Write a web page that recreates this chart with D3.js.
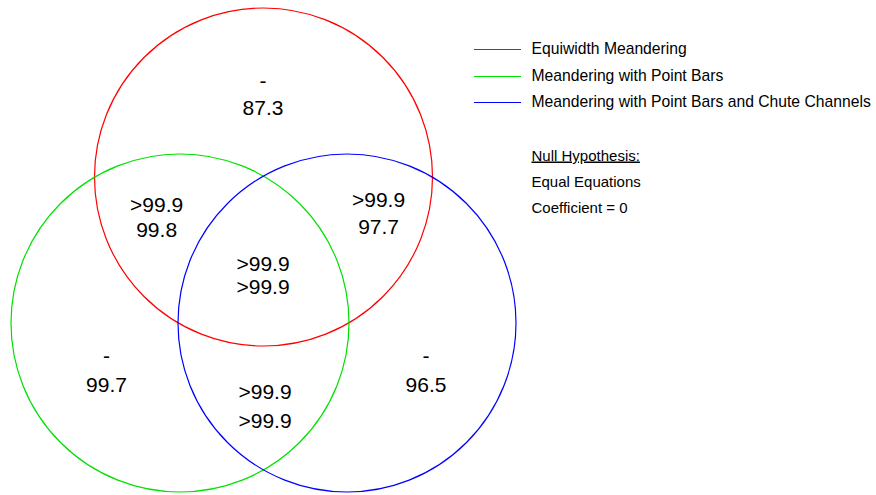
<!DOCTYPE html>
<html><head><meta charset="utf-8">
<script src="https://cdn.jsdelivr.net/npm/d3@7"></script>
<style>body{margin:0;background:#fff}</style>
</head><body>
<svg id="c" width="876" height="495"></svg>
<script>
// data
const setNames = ["Equiwidth Meandering","Meandering with Point Bars","Meandering with Point Bars and Chute Channels"];
const regionKeys = ["A","B","C","AB","AC","ABC","BC"];
const regionTop = ["-","-","-",">99.9",">99.9",">99.9",">99.9"];
const regionBottom = ["87.3","99.7","96.5","99.8","97.7",">99.9",">99.9"];
const noteLines = ["Null Hypothesis:","Equal Equations","Coefficient = 0"];

// layout (relative Venn units: circle spacing = 1)
const setColors = ["#ff0000","#00e000","#0000ff"];
const circleCx = [0.5, 0, 1];
const circleCy = [0, 0.87, 0.87];
const labelU = [0.497,-0.44,1.473,-0.14,1.189,0.497,0.509];
const labelV = [-0.53,1.11,1.11,0.21,0.18,0.56,1.32];
const labelGap = [27,29,29,25,27,23,29];

const svg = d3.select("#c");
const x = d3.scaleLinear().domain([0,1]).range([180,347]);
const y = d3.scaleLinear().domain([0,0.87]).range([177,323]);
const r = 169;
const font = "Liberation Sans, Arial, sans-serif";

svg.selectAll("circle.set").data(setNames).join("circle")
  .attr("cx",(d,i)=>x(circleCx[i])).attr("cy",(d,i)=>y(circleCy[i]))
  .attr("r",r).attr("fill","none").attr("stroke",(d,i)=>setColors[i]).attr("stroke-width",1.2);

const g = svg.selectAll("g.reg").data(regionKeys).join("g")
  .attr("transform",(d,i)=>`translate(${x(labelU[i])},${y(labelV[i])})`);
g.append("text").attr("text-anchor","middle").attr("y",0).attr("font-family",font).attr("font-size",21)
  .text((d,i)=>regionTop[i]);
g.append("text").attr("text-anchor","middle").attr("y",(d,i)=>labelGap[i]).attr("font-family",font).attr("font-size",21)
  .text((d,i)=>regionBottom[i]);

const lg = svg.selectAll("g.lg").data(setNames).join("g")
  .attr("transform",(d,i)=>`translate(474,${Math.round(49+i*26.5)+0.5})`);
lg.append("line").attr("x1",0).attr("x2",47).attr("stroke",(d,i)=>setColors[i]).attr("stroke-width",1);
lg.append("text").attr("x",57.5).attr("y",4.5).attr("font-family",font).attr("font-size",15.7).text(d=>d);

svg.selectAll("text.note").data(noteLines).join("text")
  .attr("x",531.5).attr("y",(d,i)=>160.5+i*26).attr("font-family",font).attr("font-size",15)
  .attr("text-decoration",(d,i)=>i===0?"underline":null).text(d=>d);
</script>
</body></html>
